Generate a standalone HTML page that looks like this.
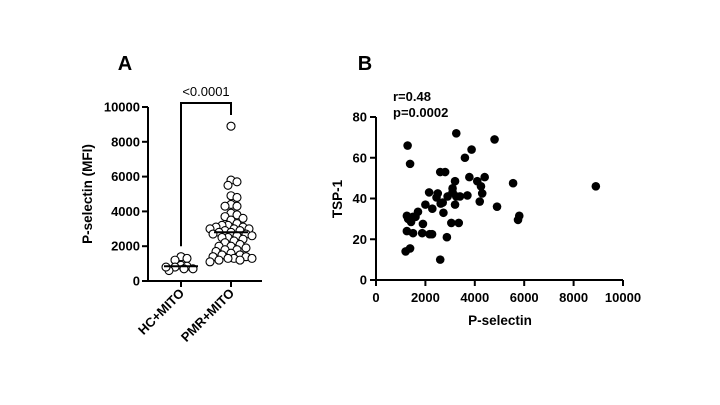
<!DOCTYPE html>
<html><head><meta charset="utf-8"><style>
body{margin:0;background:#fff;}
svg{display:block;font-family:"Liberation Sans",Arial,sans-serif;}
</style></head><body>
<svg id="c" width="720" height="405">
<text x="125" y="70" font-size="20" font-weight="bold" text-anchor="middle">A</text>
<text x="365" y="70" font-size="20" font-weight="bold" text-anchor="middle">B</text>
<g id="ga"></g><g id="gb"></g>
</svg>
<script>
const groups=["HC+MITO","PMR+MITO"];
const hcValues=[1400,1300,1200,900,850,800,700,600,700,800];
const pmrValues=[8900,5800,5700,5500,4900,4800,4400,4300,4300,3900,3800,3700,3600,3500,3300,3200,3200,3100,3100,3000,3000,3000,2900,2900,2800,2800,2700,2700,2600,2600,2500,2500,2400,2300,2200,2100,2000,2000,1900,1800,1800,1700,1600,1500,1500,1400,1400,1300,1300,1300,1200,1200,1100];
const medians=[850,2800];
const aTicks=[0,2000,4000,6000,8000,10000];
const pText="<0.0001";
const bX=[1280,1380,1200,1380,1250,1300,1420,1500,1250,1500,1700,1600,1870,1900,2000,2150,2170,2270,2280,2450,2500,2600,2600,2620,2700,2730,2800,2870,2900,3050,3100,3100,3200,3200,3250,3250,3350,3400,3600,3700,3780,3870,4100,4200,4250,4300,4400,4800,4900,5550,5750,5800,8900];
const bY=[66,57,14,15.5,31.5,30,28.5,31,24,23,33.5,31,23,27.5,37,43,22.5,22.5,35,40.5,42.5,53,10,37.5,38,33,53,21,41,28,45,43,37,48.5,72,41,28,41,60,41.5,50.5,64,48.5,38.5,46,42.5,50.5,69,36,47.5,29.5,31.5,46];
const bXTicks=[0,2000,4000,6000,8000,10000];
const bYTicks=[0,20,40,60,80];
const NS="http://www.w3.org/2000/svg";
function mk(p,t,a){const e=document.createElementNS(NS,t);for(const k in a)e.setAttribute(k,a[k]);p.appendChild(e);return e;}
// Panel A
const ga=document.getElementById('ga');
const ay=v=>281-v/10000*174;
const ax=i=>181+i*50;
mk(ga,'line',{x1:148,y1:107,x2:148,y2:281,stroke:'#000','stroke-width':2});
mk(ga,'line',{x1:147,y1:281,x2:262,y2:281,stroke:'#000','stroke-width':2});
aTicks.forEach(t=>{
 const l=mk(ga,'line',{x1:142,y1:ay(t),x2:148,y2:ay(t),stroke:'#000','stroke-width':2});
 
 
 const tx=mk(ga,'text',{x:140,y:ay(t)+4.5,'font-size':13,'font-weight':'bold','text-anchor':'end'});
 tx.textContent=t;
 
 
});
groups.forEach((g,i)=>{
 mk(ga,'line',{x1:ax(i),y1:281,x2:ax(i),y2:287,stroke:'#000','stroke-width':2});
 const tx=mk(ga,'text',{x:ax(i)+4,y:294,'font-size':13,'font-weight':'bold','text-anchor':'end',transform:`rotate(-45 ${ax(i)+4} 294)`});
 tx.textContent=g;
 
 
});
const ylab=mk(ga,'text',{x:92,y:194,'font-size':13.5,'font-weight':'bold','text-anchor':'middle',transform:'rotate(-90 92 194)'});
ylab.textContent='P-selectin (MFI)';


mk(ga,'path',{d:`M${ax(0)} ${ay(2000)} V103 H${ax(1)} V115`,fill:'none',stroke:'#000','stroke-width':2});
const pt=mk(ga,'text',{x:(ax(0)+ax(1))/2,y:96,'font-size':13,'text-anchor':'middle'});
pt.textContent=pText;


function swarm(vals,i,maxOff){
 const placed=[];const r=4;
 vals.forEach(v=>{
  const y=ay(v);let best=0,bestD=-1;
  for(let k=0;k<40;k++){
   const o=(k%2?1:-1)*Math.ceil(k/2)*3;
   if(Math.abs(o)>maxOff)break;
   const md=placed.length?Math.min(...placed.map(p=>Math.hypot(p[0]-(ax(i)+o),p[1]-y))):99;
   if(md>=6){best=o;bestD=md;break;}
   if(md>bestD){bestD=md;best=o;}
  }
  placed.push([ax(i)+best,y]);
  const c=mk(ga,'circle',{cx:ax(i)+best,cy:y,r:r,fill:'#fff',stroke:'#000','stroke-width':1.1});
  
  
 });
}
swarm(hcValues,0,15);swarm(pmrValues,1,21);
medians.forEach((m,i)=>{
 const l=mk(ga,'line',{x1:ax(i)-17,y1:ay(m),x2:ax(i)+17,y2:ay(m),stroke:'#000','stroke-width':2});
 
 
});
// Panel B
const gb=document.getElementById('gb');
const bx=v=>376+v/10000*247;
const by=v=>280-v/80*163;
mk(gb,'line',{x1:376,y1:117,x2:376,y2:281,stroke:'#000','stroke-width':2});
mk(gb,'line',{x1:375,y1:280,x2:623,y2:280,stroke:'#000','stroke-width':2});
bYTicks.forEach(t=>{
 mk(gb,'line',{x1:370,y1:by(t),x2:376,y2:by(t),stroke:'#000','stroke-width':2});
 const tx=mk(gb,'text',{x:367,y:by(t)+4.5,'font-size':13,'font-weight':'bold','text-anchor':'end'});
 tx.textContent=t;
 
 
});
bXTicks.forEach(t=>{
 mk(gb,'line',{x1:bx(t),y1:280,x2:bx(t),y2:286,stroke:'#000','stroke-width':2});
 const tx=mk(gb,'text',{x:bx(t),y:302,'font-size':13,'font-weight':'bold','text-anchor':'middle'});
 tx.textContent=t;
 
 
});
const bxl=mk(gb,'text',{x:500,y:325,'font-size':13.5,'font-weight':'bold','text-anchor':'middle'});
bxl.textContent='P-selectin';


const byl=mk(gb,'text',{x:342,y:199,'font-size':13.5,'font-weight':'bold','text-anchor':'middle',transform:'rotate(-90 342 199)'});
byl.textContent='TSP-1';


const r1=mk(gb,'text',{x:393,y:101,'font-size':13,'font-weight':'bold'});
r1.textContent='r=0.48';


const r2=mk(gb,'text',{x:393,y:117,'font-size':13,'font-weight':'bold'});
r2.textContent='p=0.0002';


bX.forEach((v,i)=>{
 const c=mk(gb,'circle',{cx:bx(v),cy:by(bY[i]),r:4.3,fill:'#000'});
 
 
});
</script>
</body></html>
